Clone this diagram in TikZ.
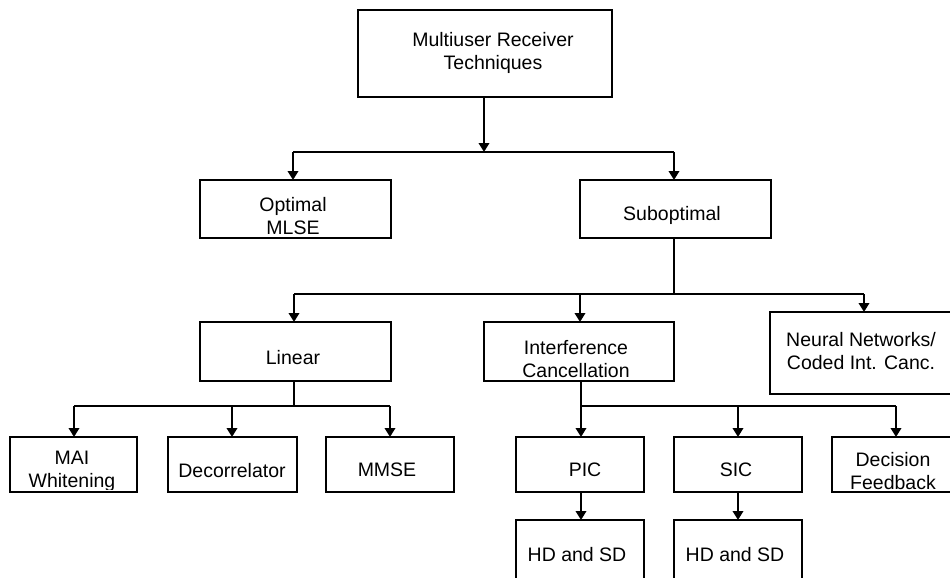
\documentclass[tikz,border=0pt]{standalone}
\usepackage{fontspec}
\setmainfont{Liberation Sans}
\usetikzlibrary{arrows.meta}
\begin{document}
\begin{tikzpicture}[x=1pt,y=-1pt,
  box/.style={draw, line width=2pt, inner sep=0pt, outer sep=0pt},
  txt/.style={anchor=north, inner sep=0pt, align=center, font=\fontsize{19.5}{23}\selectfont},
  conn/.style={line width=2pt},
  arr/.style={line width=2pt, -{Triangle[width=10.5pt,length=9pt]}}]
\useasboundingbox (0,0) rectangle (950,578);
\clip (0,0) rectangle (950,578);
% boxes
\node[box, minimum width=254pt, minimum height=87pt] (top) at (485,53.5) {};
\node[box, minimum width=191pt, minimum height=58pt] (opt) at (295.5,209) {};
\node[box, minimum width=191pt, minimum height=58pt] (sub) at (675.5,209) {};
\node[box, minimum width=191pt, minimum height=59pt] (lin) at (295.5,351.5) {};
\node[box, minimum width=190pt, minimum height=59pt] (ic) at (579,351.5) {};
\node[box, minimum width=190pt, minimum height=82pt] (nn) at (865,353) {};
\node[box, minimum width=127pt, minimum height=55pt] (mai) at (73.5,464.5) {};
\node[box, minimum width=129pt, minimum height=55pt] (dec) at (232.5,464.5) {};
\node[box, minimum width=128pt, minimum height=55pt] (mmse) at (390,464.5) {};
\node[box, minimum width=128pt, minimum height=55pt] (pic) at (580,464.5) {};
\node[box, minimum width=128pt, minimum height=55pt] (sic) at (738,464.5) {};
\node[box, minimum width=128pt, minimum height=55pt] (df) at (896,464.5) {};
\node[box, minimum width=128pt, minimum height=80pt] (hd1) at (580,560) {};
\node[box, minimum width=128pt, minimum height=80pt] (hd2) at (738,560) {};
% texts
\node[txt] (top-t) at (493,32) {Multiuser Receiver\\Techniques};
\node[txt] (opt-t) at (293,197) {Optimal\\MLSE};
\node[txt] (sub-t) at (672,206) {Suboptimal};
\node[txt] (lin-t) at (293,350) {Linear};
\node[txt] (ic-t) at (576,340) {Interference\\Cancellation};
\node[txt] (nn-t) at (861,332) {Neural Networks/\\Coded Int. Canc.};
\begin{scope}
\clip ([xshift=1pt]mai.north west) rectangle ([yshift=3pt,xshift=-1pt]mai.south east);
\node[txt] (mai-t) at (72,451) {MAI\\Whitening};
\end{scope}
\node[txt] (dec-t) at (232,463) {Decorrelator};
\node[txt] (mmse-t) at (387,463) {MMSE};
\node[txt] (pic-t) at (585,463) {PIC};
\node[txt] (sic-t) at (736,463) {SIC};
\node[txt] (df-t) at (893,452) {Decision\\Feedback};
\node[txt] (hd1-t) at (577,547) {HD and SD};
\node[txt] (hd2-t) at (735,547) {HD and SD};
% junction coordinates
\coordinate (j1) at (484,152);
\coordinate (jL) at (293,152);
\coordinate (jR) at (674,152);
\coordinate (k1) at (674,294);
\coordinate (kL) at (294,294);
\coordinate (kM) at (580,294);
\coordinate (kR) at (864,294);
\coordinate (m1) at (294,406);
\coordinate (mL) at (74,406);
\coordinate (mM) at (232,406);
\coordinate (mR) at (390,406);
\coordinate (n1) at (581,406);
\coordinate (nM) at (738,406);
\coordinate (nR) at (896,406);
% connectors
\draw[arr] (j1 |- top.south) -- (j1);
\draw[conn] (jL) -- (jR);
\draw[arr] (jL) -- (jL |- opt.north);
\draw[arr] (jR) -- (jR |- sub.north);
\draw[conn] (k1 |- sub.south) -- (k1);
\draw[conn] (kL) -- (kR);
\draw[arr] (kL) -- (kL |- lin.north);
\draw[arr] (kM) -- (kM |- ic.north);
\draw[arr] (kR) -- (kR |- nn.north);
\draw[conn] (m1 |- lin.south) -- (m1);
\draw[conn] (mL) -- (mR);
\draw[arr] (mL) -- (mL |- mai.north);
\draw[arr] (mM) -- (mM |- dec.north);
\draw[arr] (mR) -- (mR |- mmse.north);
\draw[conn] (n1 |- ic.south) -- (n1) -- (nR);
\draw[arr] (n1) -- (n1 |- pic.north);
\draw[arr] (nM) -- (nM |- sic.north);
\draw[arr] (nR) -- (nR |- df.north);
\draw[arr] (n1 |- pic.south) -- (n1 |- hd1.north);
\draw[arr] (nM |- sic.south) -- (nM |- hd2.north);
\end{tikzpicture}
\end{document}
